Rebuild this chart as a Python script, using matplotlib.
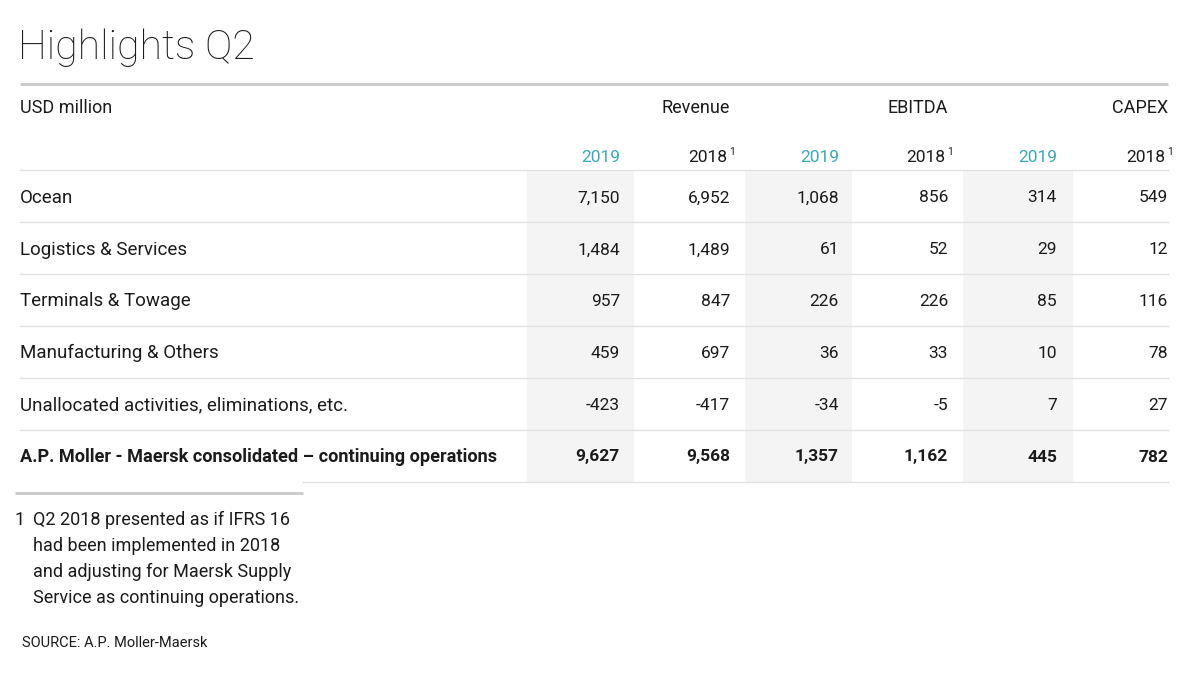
import matplotlib.pyplot as plt

categories = [
    "Ocean",
    "Logistics & Services",
    "Terminals & Towage",
    "Manufacturing & Others",
    "Unallocated activities, eliminations, etc.",
    "A.P. Moller - Maersk consolidated \u2013 continuing operations",
]
revenue_2019 = [7150, 1484, 957, 459, -423, 9627]
revenue_2018 = [6952, 1489, 847, 697, -417, 9568]
ebitda_2019 = [1068, 61, 226, 36, -34, 1357]
ebitda_2018 = [856, 52, 226, 33, -5, 1162]
capex_2019 = [314, 29, 85, 10, 7, 445]
capex_2018 = [549, 12, 116, 78, 27, 782]

groups = ["Revenue", "EBITDA", "CAPEX"]
years = ["2019", "2018"]
footnote = ["Q2 2018 presented as if IFRS 16",
            "had been implemented in 2018",
            "and adjusting for Maersk Supply",
            "Service as continuing operations."]
source = "SOURCE: A.P. Moller-Maersk"

columns = [revenue_2019, revenue_2018, ebitda_2019, ebitda_2018, capex_2019, capex_2018]

# layout (pixels)
col_right = [620, 730, 839, 948, 1057, 1168]
shade_spans = [(527, 634), (745, 852), (963, 1073)]
row_y = [198, 250, 301, 353, 405, 457]
row_lines = [170, 222, 274, 326, 378, 430]

TEXT = "#1b1b1b"
TEAL = "#3aa9b8"
GRID = "#e2e2e2"
FONT = "Roboto"

fig = plt.figure(figsize=(12, 6.75), dpi=100)
ax = fig.add_axes([0, 0, 1, 1])
ax.set_xlim(0, 1200)
ax.set_ylim(675, 0)
ax.axis("off")

ax.text(18, 48, "Highlights Q2", fontsize=29.5, fontweight="light", color=TEXT,
        va="center", ha="left", family=FONT)
ax.plot([20, 1168], [84, 84], color="#c9c9c9", lw=2, solid_capstyle="butt")

# shaded 2019 columns
for x0, x1 in shade_spans:
    ax.axvspan(x0, x1, ymin=1 - 482 / 675, ymax=1 - 171 / 675, color="#f4f4f4", lw=0, zorder=0)

ax.text(20, 108, "USD million", fontsize=13, color=TEXT, va="center", family=FONT)
for i, g in enumerate(groups):
    ax.text(col_right[2 * i + 1], 108, g, fontsize=13, color=TEXT, va="center",
            ha="right", family=FONT)

for i, xr in enumerate(col_right):
    if i % 2 == 0:
        ax.text(xr, 157, years[0], fontsize=12.5, color=TEAL, va="center", ha="right", family=FONT)
    else:
        ax.text(xr - 3, 157, years[1], fontsize=12.5, color=TEXT, va="center", ha="right", family=FONT)
        ax.text(xr - 1, 152, "1", fontsize=7.5, color=TEXT, va="center", ha="left", family=FONT)

for y in row_lines:
    ax.plot([20, 1168], [y, y], color=GRID, lw=1, zorder=1)
ax.plot([303, 1168], [482, 482], color=GRID, lw=1, zorder=1)

for r, cat in enumerate(categories):
    bold = r == len(categories) - 1
    w = "bold" if bold else "normal"
    ax.text(20, row_y[r], cat, fontsize=13.1 if bold else 13.5, color=TEXT, va="center",
            ha="left", fontweight=w, family=FONT)
    for c, vals in enumerate(columns):
        ax.text(col_right[c], row_y[r], f"{vals[r]:,}", fontsize=12.5, color=TEXT,
                va="center", ha="right", fontweight=w, family=FONT)

# footnote
ax.plot([15, 303], [493, 493], color="#c9c9c9", lw=2, solid_capstyle="butt")
ax.text(14, 520, "1", fontsize=13, color=TEXT, va="center", family=FONT)
for k, line in enumerate(footnote):
    ax.text(33, 520 + 26 * k, line, fontsize=13, color=TEXT, va="center", family=FONT)

ax.text(22, 643, source, fontsize=10.5, color=TEXT, va="center", family=FONT)

fig.savefig("out.png", dpi=100, facecolor="white")
